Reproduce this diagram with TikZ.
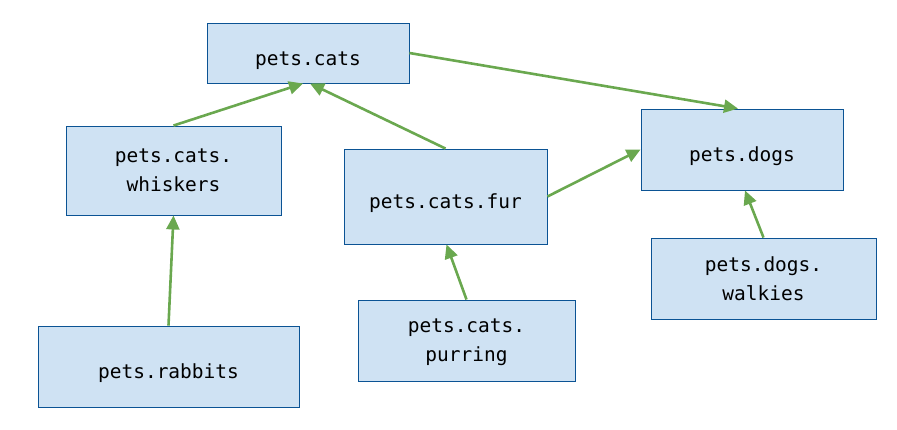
\documentclass[tikz,border=0pt]{standalone}
\usepackage{fontspec}
\setmonofont{DejaVu Sans Mono}
\usetikzlibrary{arrows.meta,positioning}
\definecolor{boxfill}{HTML}{CFE2F3}
\definecolor{boxline}{HTML}{0B5394}
\definecolor{arrowgreen}{HTML}{6AA84F}
\tikzset{
  pkg/.style={draw=boxline,fill=boxfill,line width=0.9pt,align=center,
    font=\ttfamily\fontsize{19.5}{29}\selectfont,inner sep=0pt,text depth=-1pt},
  pkgone/.style={pkg,text height=24pt,text depth=0pt},
  dep/.style={draw=arrowgreen,line width=2.6pt,-{Triangle[length=14pt,width=13pt]}}
}
\begin{document}
\begin{tikzpicture}[x=1pt,y=-1pt]
\useasboundingbox (0,0) rectangle (897,429);
\node[pkgone,minimum width=202,minimum height=60] (cats) at (308,53) {pets.cats};
\node[pkg,minimum width=215,minimum height=89] (whiskers) at (173.5,170.5) {pets.cats.\\whiskers};
\node[pkgone,minimum width=203,minimum height=95] (fur) at (445.5,196.5) {pets.cats.fur};
\node[pkgone,minimum width=202,minimum height=81] (dogs) at (742,149.5) {pets.dogs};
\node[pkg,minimum width=225,minimum height=81] (walkies) at (763.5,278.5) {pets.dogs.\\walkies};
\node[pkgone,minimum width=261,minimum height=81] (rabbits) at (168.5,366.5) {pets.rabbits};
\node[pkg,minimum width=217,minimum height=81] (purring) at (466.5,340.5) {pets.cats.\\purring};
% arrows
\draw[dep] (whiskers.north) -- ([xshift=-5pt]cats.south);
\draw[dep] (fur.north) -- ([xshift=2pt]cats.south);
\draw[dep] (cats.east) -- ([xshift=-4pt]dogs.north);
\draw[dep] (fur.east) -- (dogs.west);
\draw[dep] (rabbits.north) -- (whiskers.south);
\draw[dep] (purring.north) -- ([xshift=1pt]fur.south);
\draw[dep] (walkies.north) -- ([xshift=3pt]dogs.south);
\end{tikzpicture}
\end{document}
